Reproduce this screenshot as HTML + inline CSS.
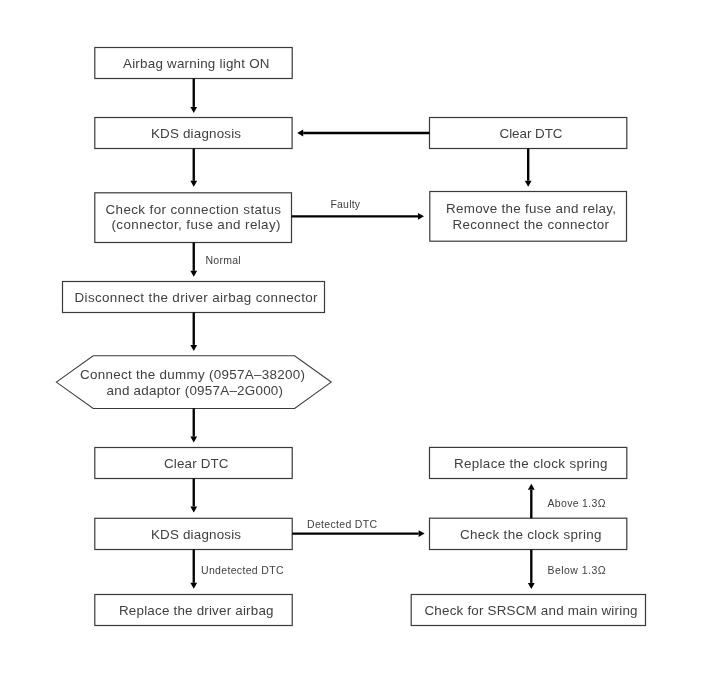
<!DOCTYPE html><html><head><meta charset="utf-8"><style>html,body{margin:0;padding:0;background:#fff;width:701px;height:680px;overflow:hidden}svg{display:block;will-change:transform}text{font-family:"Liberation Sans",sans-serif}</style></head><body>
<svg width="701" height="680" viewBox="0 0 701 680">
<rect width="701" height="680" fill="#fff"/>
<rect x="94.8" y="47.5" width="197.4" height="31.0" fill="none" stroke="#3a3a3a" stroke-width="1.2"/>
<rect x="94.8" y="117.5" width="197.3" height="31.0" fill="none" stroke="#3a3a3a" stroke-width="1.2"/>
<rect x="94.8" y="192.8" width="196.7" height="49.7" fill="none" stroke="#3a3a3a" stroke-width="1.2"/>
<rect x="62.5" y="281.5" width="262.0" height="31.0" fill="none" stroke="#3a3a3a" stroke-width="1.2"/>
<rect x="94.8" y="447.5" width="197.4" height="31.0" fill="none" stroke="#3a3a3a" stroke-width="1.2"/>
<rect x="94.8" y="518.3" width="197.4" height="31.2" fill="none" stroke="#3a3a3a" stroke-width="1.2"/>
<rect x="94.8" y="594.5" width="197.4" height="31.0" fill="none" stroke="#3a3a3a" stroke-width="1.2"/>
<rect x="429.5" y="117.5" width="197.3" height="31.0" fill="none" stroke="#3a3a3a" stroke-width="1.2"/>
<rect x="429.8" y="191.5" width="196.7" height="49.7" fill="none" stroke="#3a3a3a" stroke-width="1.2"/>
<rect x="429.5" y="447.4" width="197.3" height="31.1" fill="none" stroke="#3a3a3a" stroke-width="1.2"/>
<rect x="429.5" y="518.2" width="197.3" height="31.3" fill="none" stroke="#3a3a3a" stroke-width="1.2"/>
<rect x="411.2" y="594.5" width="234.3" height="31.0" fill="none" stroke="#3a3a3a" stroke-width="1.2"/>
<polygon points="56.3,382.1 93.2,355.8 294.6,355.8 331.2,382.1 294.6,408.5 93.2,408.5" fill="none" stroke="#3a3a3a" stroke-width="1.1"/>
<line x1="193.75" y1="78.5" x2="193.75" y2="106.90" stroke="#000" stroke-width="2.35"/>
<polygon points="193.75,112.9 190.35,106.90 197.15,106.90" fill="#000"/>
<line x1="193.75" y1="148.5" x2="193.75" y2="180.80" stroke="#000" stroke-width="2.35"/>
<polygon points="193.75,186.8 190.35,180.80 197.15,180.80" fill="#000"/>
<line x1="193.75" y1="242.5" x2="193.75" y2="270.80" stroke="#000" stroke-width="2.35"/>
<polygon points="193.75,276.8 190.35,270.80 197.15,270.80" fill="#000"/>
<line x1="193.75" y1="312.5" x2="193.75" y2="344.90" stroke="#000" stroke-width="2.35"/>
<polygon points="193.75,350.9 190.35,344.90 197.15,344.90" fill="#000"/>
<line x1="193.75" y1="408.5" x2="193.75" y2="436.60" stroke="#000" stroke-width="2.35"/>
<polygon points="193.75,442.6 190.35,436.60 197.15,436.60" fill="#000"/>
<line x1="193.75" y1="478.5" x2="193.75" y2="506.50" stroke="#000" stroke-width="2.35"/>
<polygon points="193.75,512.5 190.35,506.50 197.15,506.50" fill="#000"/>
<line x1="193.75" y1="549.5" x2="193.75" y2="582.80" stroke="#000" stroke-width="2.35"/>
<polygon points="193.75,588.8 190.35,582.80 197.15,582.80" fill="#000"/>
<line x1="429.5" y1="133" x2="303.20" y2="133.00" stroke="#000" stroke-width="2.35"/>
<polygon points="297.2,133 303.20,129.60 303.20,136.40" fill="#000"/>
<line x1="528.2" y1="148.5" x2="528.20" y2="180.80" stroke="#000" stroke-width="2.35"/>
<polygon points="528.2,186.8 524.80,180.80 531.60,180.80" fill="#000"/>
<line x1="291.5" y1="216.3" x2="418.00" y2="216.30" stroke="#000" stroke-width="2.35"/>
<polygon points="424,216.3 418.00,219.70 418.00,212.90" fill="#000"/>
<line x1="292.2" y1="533.6" x2="418.60" y2="533.60" stroke="#000" stroke-width="2.35"/>
<polygon points="424.6,533.6 418.60,537.00 418.60,530.20" fill="#000"/>
<line x1="531.3" y1="518.3" x2="531.30" y2="489.80" stroke="#000" stroke-width="2.35"/>
<polygon points="531.3,483.8 534.70,489.80 527.90,489.80" fill="#000"/>
<line x1="531.3" y1="549.5" x2="531.30" y2="582.90" stroke="#000" stroke-width="2.35"/>
<polygon points="531.3,588.9 527.90,582.90 534.70,582.90" fill="#000"/>
<text x="123.00" y="68" font-size="13.4" fill="#404040" textLength="146.51" lengthAdjust="spacing">Airbag warning light ON</text>
<text x="151.00" y="137.7" font-size="13.4" fill="#404040" textLength="90.04" lengthAdjust="spacing">KDS diagnosis</text>
<text x="105.50" y="213.5" font-size="13.4" fill="#404040" textLength="175.51" lengthAdjust="spacing">Check for connection status</text>
<text x="111.50" y="229.3" font-size="13.4" fill="#404040" textLength="169.02" lengthAdjust="spacing">(connector, fuse and relay)</text>
<text x="74.50" y="301.8" font-size="13.4" fill="#404040" textLength="243.01" lengthAdjust="spacing">Disconnect the driver airbag connector</text>
<text x="80.00" y="379.1" font-size="13.4" fill="#404040" textLength="225.01" lengthAdjust="spacing">Connect the dummy (0957A–38200)</text>
<text x="106.50" y="394.7" font-size="13.4" fill="#404040" textLength="176.51" lengthAdjust="spacing">and adaptor (0957A–2G000)</text>
<text x="164.00" y="468.2" font-size="13.4" fill="#404040" textLength="64.54" lengthAdjust="spacing">Clear DTC</text>
<text x="151.00" y="538.7" font-size="13.4" fill="#404040" textLength="90.04" lengthAdjust="spacing">KDS diagnosis</text>
<text x="119.00" y="615" font-size="13.4" fill="#404040" textLength="154.51" lengthAdjust="spacing">Replace the driver airbag</text>
<text x="499.50" y="138.1" font-size="13.4" fill="#404040" textLength="63.02" lengthAdjust="spacing">Clear DTC</text>
<text x="446.00" y="213.2" font-size="13.4" fill="#404040" textLength="170.03" lengthAdjust="spacing">Remove the fuse and relay,</text>
<text x="452.50" y="229.2" font-size="13.4" fill="#404040" textLength="156.51" lengthAdjust="spacing">Reconnect the connector</text>
<text x="454.00" y="467.5" font-size="13.4" fill="#404040" textLength="153.51" lengthAdjust="spacing">Replace the clock spring</text>
<text x="460.00" y="538.5" font-size="13.4" fill="#404040" textLength="141.50" lengthAdjust="spacing">Check the clock spring</text>
<text x="424.50" y="615" font-size="13.4" fill="#404040" textLength="213.00" lengthAdjust="spacing">Check for SRSCM and main wiring</text>
<text x="330.50" y="208" font-size="10.5" fill="#404040" textLength="29.50" lengthAdjust="spacing">Faulty</text>
<text x="205.50" y="264" font-size="10.5" fill="#404040" textLength="35.08" lengthAdjust="spacing">Normal</text>
<text x="307.00" y="527.7" font-size="10.5" fill="#404040" textLength="70.01" lengthAdjust="spacing">Detected DTC</text>
<text x="201.00" y="573.7" font-size="10.5" fill="#404040" textLength="82.51" lengthAdjust="spacing">Undetected DTC</text>
<text x="547.50" y="506.7" font-size="10.5" fill="#404040" textLength="58.01" lengthAdjust="spacing">Above 1.3Ω</text>
<text x="547.50" y="574" font-size="10.5" fill="#404040" textLength="58.03" lengthAdjust="spacing">Below 1.3Ω</text>
</svg></body></html>
